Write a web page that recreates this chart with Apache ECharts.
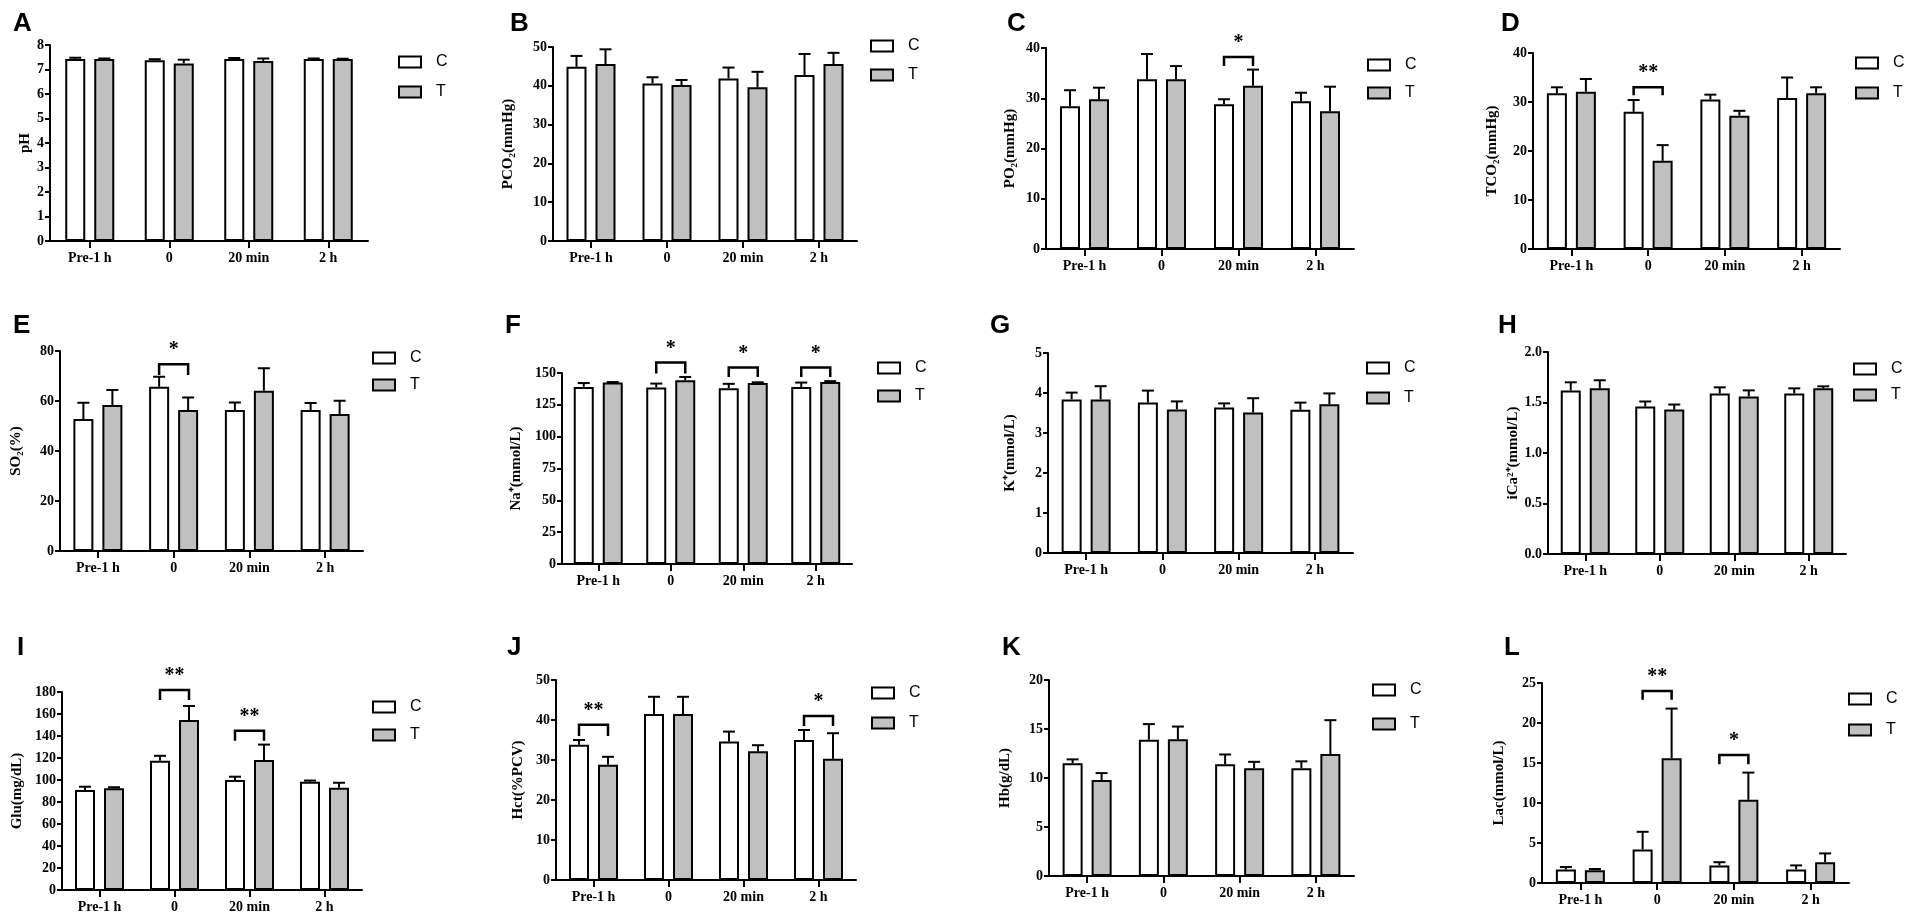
<!DOCTYPE html>
<html>
<head>
<meta charset="utf-8">
<script src="https://cdn.jsdelivr.net/npm/echarts@6/dist/echarts.min.js"></script>
<style>
html,body{margin:0;padding:0;background:#fff;}
#chart{width:1906px;height:918px;}
</style>
</head>
<body>
<div id="chart"></div>
<script>
// ---------- DATA ----------
const categories = ['Pre-1 h', '0', '20 min', '2 h'];
const panelLetters = ['A','B','C','D','E','F','G','H','I','J','K','L'];
const axisNames = ['pH','PCO\u2082(mmHg)','PO\u2082(mmHg)','TCO\u2082(mmHg)','SO\u2082(%)','Na\u207A(mmol/L)',
  'K\u207A(mmol/L)','iCa\u00B2\u207A(mmol/L)','Glu(mg/dL)','Hct(%PCV)','Hb(g/dL)','Lac(mmol/L)'];
const axisMax = [8, 50, 40, 40, 80, 150, 5, 2.0, 180, 50, 20, 25];
const axisStep = [1, 10, 10, 10, 20, 25, 1, 0.5, 20, 10, 5, 5];

const pH_C = [7.43, 7.38, 7.43, 7.43],    pH_C_sd = [0.05, 0.04, 0.04, 0.02];
const pH_T = [7.43, 7.25, 7.35, 7.43],    pH_T_sd = [0.02, 0.15, 0.10, 0.01];
const PCO2_C = [44.9, 40.6, 41.9, 42.8],  PCO2_C_sd = [2.8, 1.6, 2.8, 5.4];
const PCO2_T = [45.6, 40.2, 39.6, 45.6],  PCO2_T_sd = [3.8, 1.3, 4.0, 2.9];
const PO2_C = [28.4, 33.8, 28.8, 29.4],   PO2_C_sd = [3.2, 5.0, 1.0, 1.7];
const PO2_T = [29.8, 33.8, 32.5, 27.4],   PO2_T_sd = [2.3, 2.6, 3.2, 4.9];
const TCO2_C = [31.8, 28.0, 30.5, 30.8],  TCO2_C_sd = [1.2, 2.4, 1.0, 4.2];
const TCO2_T = [32.1, 18.0, 27.2, 31.8],  TCO2_T_sd = [2.6, 3.2, 1.0, 1.2];
const SO2_C = [52.8, 65.7, 56.4, 56.4],   SO2_C_sd = [6.5, 4.0, 3.0, 2.8];
const SO2_T = [58.4, 56.4, 64.1, 54.8],   SO2_T_sd = [6.0, 5.0, 9.0, 5.3];
const Na_C = [139.1, 138.6, 138.0, 139.1], Na_C_sd = [3.0, 3.1, 3.5, 3.4];
const Na_T = [142.5, 144.3, 142.2, 143.0], Na_T_sd = [0.4, 2.6, 0.5, 0.6];
const K_C = [3.84, 3.76, 3.64, 3.58],     K_C_sd = [0.17, 0.30, 0.10, 0.18];
const K_T = [3.84, 3.59, 3.51, 3.72],     K_T_sd = [0.33, 0.20, 0.36, 0.27];
const iCa_C = [1.62, 1.46, 1.59, 1.59],   iCa_C_sd = [0.08, 0.05, 0.06, 0.05];
const iCa_T = [1.64, 1.43, 1.56, 1.64],   iCa_T_sd = [0.08, 0.05, 0.06, 0.02];
const Glu_C = [90.9, 117.5, 100.0, 98.5], Glu_C_sd = [3.0, 4.5, 3.0, 1.0];
const Glu_T = [92.4, 154.5, 118.2, 93.0], Glu_T_sd = [1.0, 12.8, 14.0, 4.5];
const Hct_C = [33.8, 41.5, 34.6, 35.0],   Hct_C_sd = [1.2, 4.3, 2.5, 2.5];
const Hct_T = [28.8, 41.5, 32.2, 30.3],   Hct_T_sd = [2.0, 4.3, 1.5, 6.4];
const Hb_C = [11.5, 13.9, 11.4, 11.0],    Hb_C_sd = [0.4, 1.6, 1.0, 0.7];
const Hb_T = [9.8, 13.95, 11.0, 12.45],   Hb_T_sd = [0.7, 1.3, 0.65, 3.45];
const Lac_C = [1.7, 4.2, 2.2, 1.7],       Lac_C_sd = [0.3, 2.2, 0.4, 0.5];
const Lac_T = [1.6, 15.6, 10.4, 2.6],     Lac_T_sd = [0.15, 6.2, 3.4, 1.1];

// significance brackets: [category index, bracket level, end-tick level, label]
const sig_PO2 = [[2, 38.2, 36.4, '*']];
const sig_TCO2 = [[1, 33.0, 31.4, '**']];
const sig_SO2 = [[1, 74.7, 70.4, '*']];
const sig_Na = [[1, 158.2, 149.6, '*'], [2, 154.3, 146.9, '*'], [3, 154.3, 146.9, '*']];
const sig_Glu = [[1, 181.8, 172.7, '**'], [2, 144.8, 135.7, '**']];
const sig_Hct = [[0, 38.8, 36.0, '**'], [3, 41.0, 38.5, '*']];
const sig_Lac = [[1, 24.0, 22.9, '**'], [2, 16.0, 14.85, '*']];

const meansC = [pH_C, PCO2_C, PO2_C, TCO2_C, SO2_C, Na_C, K_C, iCa_C, Glu_C, Hct_C, Hb_C, Lac_C];
const sdC = [pH_C_sd, PCO2_C_sd, PO2_C_sd, TCO2_C_sd, SO2_C_sd, Na_C_sd, K_C_sd, iCa_C_sd, Glu_C_sd, Hct_C_sd, Hb_C_sd, Lac_C_sd];
const meansT = [pH_T, PCO2_T, PO2_T, TCO2_T, SO2_T, Na_T, K_T, iCa_T, Glu_T, Hct_T, Hb_T, Lac_T];
const sdT = [pH_T_sd, PCO2_T_sd, PO2_T_sd, TCO2_T_sd, SO2_T_sd, Na_T_sd, K_T_sd, iCa_T_sd, Glu_T_sd, Hct_T_sd, Hb_T_sd, Lac_T_sd];
const sigs = [[], [], sig_PO2, sig_TCO2, sig_SO2, sig_Na, [], [], sig_Glu, sig_Hct, [], sig_Lac];

// ---------- LAYOUT (px) ----------
// [gridLeft, gridTop, gridWidth, gridHeight, legendLeft, legendTop, legendGap, letterLeft, letterTop, nameGap]
const layout = [
  [50, 45, 318, 196, 393, 49, 14, 8, 6, 17],
  [553, 47, 304, 194, 865, 33, 13, 505, 6, 37],
  [1046, 48, 308, 201, 1362, 52, 12, 1002, 6, 28],
  [1533, 53, 307, 196, 1850, 50, 14, 1496, 6, 33],
  [60, 351, 303, 200, 367, 345, 11, 8, 308, 36],
  [562, 373, 290, 191, 872, 355, 12, 500, 308, 38],
  [1048, 353, 305, 200, 1361, 355, 14, 985, 308, 30],
  [1548, 352, 298, 202, 1848, 356, 10, 1493, 308, 27],
  [62, 692, 300, 198, 367, 694, 12, 12, 630, 37],
  [556, 680, 300, 200, 866, 680, 14, 502, 630, 30],
  [1049, 680, 305, 196, 1367, 677, 18, 997, 630, 36],
  [1542, 683, 307, 200, 1843, 686, 15, 1499, 630, 35]
];

const SERIF = '"Liberation Serif", "Times New Roman", serif';
const SANS = '"Liberation Sans", Arial, sans-serif';
const BAR_W = 20, HALF_OFF = 14.5, CAP = 6;
const GRAY = '#c0c0c0';

const grids = [], xAxes = [], yAxes = [], legends = [], titles = [], series = [];

function errRender(offset) {
  return function (params, api) {
    const x = api.value(0);
    const lo = api.coord([x, api.value(1)]);
    const hi = api.coord([x, api.value(2)]);
    const cx = lo[0] + offset;
    return {
      type: 'group',
      children: [
        { type: 'line', shape: { x1: cx, y1: lo[1], x2: cx, y2: hi[1] }, style: { stroke: '#000', lineWidth: 2 } },
        { type: 'line', shape: { x1: cx - CAP, y1: hi[1], x2: cx + CAP, y2: hi[1] }, style: { stroke: '#000', lineWidth: 2 } }
      ]
    };
  };
}

for (let i = 0; i < 12; i++) {
  const L = layout[i];
  grids.push({ left: L[0], top: L[1], width: L[2], height: L[3], containLabel: false, outerBoundsMode: 'none' });
  xAxes.push({
    type: 'category', gridIndex: i, data: categories,
    axisLine: { show: true, lineStyle: { color: '#000', width: 2 } },
    axisTick: { show: true, alignWithLabel: true, length: 7, lineStyle: { color: '#000', width: 2 } },
    axisLabel: { interval: 0, margin: 10, color: '#000', fontFamily: SERIF, fontWeight: 'bold', fontSize: 14 },
    splitLine: { show: false }
  });
  yAxes.push({
    type: 'value', gridIndex: i, min: 0, max: axisMax[i], interval: axisStep[i],
    name: axisNames[i], nameLocation: 'middle', nameGap: L[9],
    nameTextStyle: { color: '#000', fontFamily: SERIF, fontWeight: 'bold', fontSize: 15 },
    axisLine: { show: true, lineStyle: { color: '#000', width: 2 } },
    axisTick: { show: true, length: 5, lineStyle: { color: '#000', width: 2 } },
    axisLabel: {
      margin: 6, color: '#000', fontFamily: SERIF, fontWeight: 'bold', fontSize: 14,
      formatter: axisStep[i] < 1 ? (v => v.toFixed(1)) : (v => String(v))
    },
    splitLine: { show: false }
  });
  legends.push({
    data: ['C', 'T'], orient: 'vertical', left: L[4], top: L[5], itemGap: L[6],
    itemWidth: 22, itemHeight: 11, selectedMode: false, icon: 'rect',
    textStyle: { color: '#000', fontFamily: SANS, fontSize: 16, padding: [0, 0, 0, 10] }
  });
  titles.push({
    text: panelLetters[i], left: L[7], top: L[8],
    textStyle: { color: '#000', fontFamily: SANS, fontWeight: 'bold', fontSize: 26 }
  });

  series.push({
    type: 'bar', name: 'C', xAxisIndex: i, yAxisIndex: i, data: meansC[i],
    barWidth: BAR_W, barGap: '45%',
    itemStyle: { color: '#fff', borderColor: '#000', borderWidth: 2 }
  });
  series.push({
    type: 'bar', name: 'T', xAxisIndex: i, yAxisIndex: i, data: meansT[i],
    barWidth: BAR_W, barGap: '45%',
    itemStyle: { color: GRAY, borderColor: '#000', borderWidth: 2 }
  });
  series.push({
    type: 'custom', name: 'sdC' + i, xAxisIndex: i, yAxisIndex: i, z: 3,
    data: meansC[i].map((m, k) => [k, m, m + sdC[i][k]]),
    encode: { x: 0, y: [1, 2] },
    renderItem: errRender(-HALF_OFF)
  });
  series.push({
    type: 'custom', name: 'sdT' + i, xAxisIndex: i, yAxisIndex: i, z: 3,
    data: meansT[i].map((m, k) => [k, m, m + sdT[i][k]]),
    encode: { x: 0, y: [1, 2] },
    renderItem: errRender(HALF_OFF)
  });
  if (sigs[i].length) {
    const sg = sigs[i];
    series.push({
      type: 'custom', name: 'sig' + i, xAxisIndex: i, yAxisIndex: i, z: 4, clip: false,
      data: sg.map(s => [s[0], s[1], s[2]]),
      encode: { x: 0, y: [1, 2] },
      renderItem: function (params, api) {
        const x = api.value(0);
        const top = api.coord([x, api.value(1)]);
        const end = api.coord([x, api.value(2)]);
        const x1 = top[0] - HALF_OFF, x2 = top[0] + HALF_OFF;
        return {
          type: 'group',
          children: [
            { type: 'polyline', shape: { points: [[x1, end[1]], [x1, top[1]], [x2, top[1]], [x2, end[1]]] },
              style: { stroke: '#000', lineWidth: 2.5, fill: null } },
            { type: 'text', x: top[0], y: top[1] - 4,
              style: { text: sg[params.dataIndex][3], fill: '#000', fontFamily: SERIF, fontWeight: 'bold',
                       fontSize: 20, align: 'center', verticalAlign: 'bottom' } }
          ]
        };
      }
    });
  }
}

const chart = echarts.init(document.getElementById('chart'), null, { renderer: 'canvas' });
chart.setOption({
  animation: false,
  backgroundColor: '#fff',
  title: titles,
  legend: legends,
  grid: grids,
  xAxis: xAxes,
  yAxis: yAxes,
  series: series
});
</script>
</body>
</html>
